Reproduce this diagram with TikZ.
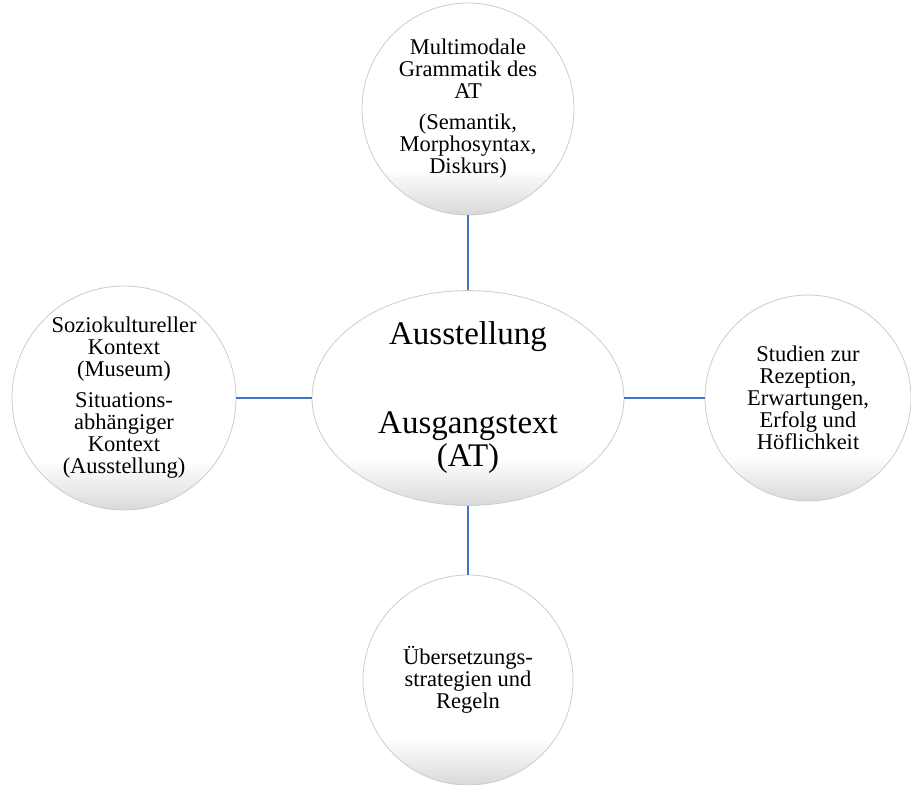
\documentclass[tikz,border=0pt]{standalone}
\usepackage{fontspec}
\setmainfont{Liberation Serif}
\usetikzlibrary{shapes.geometric}
\definecolor{linkblue}{RGB}{68,114,196}
\pgfdeclareverticalshading{button}{100bp}{color(0bp)=(gray!30); color(25bp)=(gray!30); color(36bp)=(white); color(100bp)=(white)}
\tikzset{
  bubble/.style={circle, draw=gray!40, line width=0.8pt, inner sep=0pt,
    shading=button, align=center, font=\fontsize{22.5}{22}\selectfont},
  hub/.style={ellipse, draw=gray!40, line width=0.8pt, inner sep=0pt,
    shading=button, minimum width=312pt, minimum height=204pt,
    align=center, font=\fontsize{33}{33}\selectfont},
  link/.style={draw=linkblue, line width=1.4pt}
}
\begin{document}
\begin{tikzpicture}[x=1pt,y=-1pt]
\useasboundingbox (0,0) rectangle (911,785);
\node[bubble, minimum size=212pt] (top) at (468,109)
  {Multimodale\\Grammatik des\\AT\\[9pt](Semantik,\\Morphosyntax,\\Diskurs)};
\node[bubble, minimum size=224pt] (left) at (124,398)
  {Soziokultureller\\Kontext\\(Museum)\\[9pt]Situations-\\abhängiger\\Kontext\\(Ausstellung)};
\node[bubble, minimum size=206pt] (right) at (808,398)
  {Studien zur\\Rezeption,\\Erwartungen,\\Erfolg und\\Höflichkeit};
\node[bubble, minimum size=210pt] (bottom) at (468,680)
  {Übersetzungs-\\strategien und\\Regeln};
\node[hub] (hub) at (468,398)
  {Ausstellung\\[56pt]Ausgangstext\\(AT)};
\draw[link] (top.south) -- (hub.north);
\draw[link] (hub.south) -- (bottom.north);
\draw[link] (left.east) -- (hub.west);
\draw[link] (hub.east) -- (right.west);
\end{tikzpicture}
\end{document}
